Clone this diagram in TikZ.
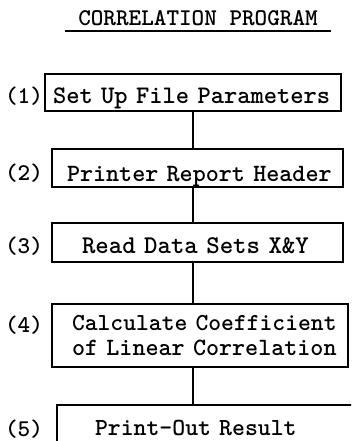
\documentclass[tikz,border=0pt]{standalone}
\usepackage{graphicx}
\newcommand\flowfont{\fontsize{24}{25}\selectfont\ttfamily\bfseries}
% typewriter text stretched to n characters of 12.6pt pitch
\newcommand\typed[2]{\resizebox{#1\dimexpr12.6pt\relax}{!}{#2}}
\tikzset{
  stepbox/.style={draw, line width=2.2pt, inner sep=0pt, outer sep=0pt,
                  align=left, anchor=north west, font=\flowfont},
  steplabel/.style={inner sep=0pt, anchor=base, font=\flowfont},
  link/.style={line width=2pt},
}
\begin{document}
\begin{tikzpicture}[x=1pt, y=-1pt]
  \useasboundingbox[fill=white] (0,0) rectangle (351,441);
  \clip (0,0) rectangle (351,441);

  % heading
  \node[steplabel] (title) at (198,26) {\typed{19}{CORRELATION PROGRAM}};
  \draw[line width=2pt] ([xshift=-13pt,yshift=-5.5pt]title.base west)
                     -- ([xshift=13pt,yshift=-5.5pt]title.base east);

  % program steps
  \node[stepbox, text width=296pt, text height=29pt, text depth=8pt] (b1) at (45,74)
    {\hspace*{8pt}\typed{22}{Set Up File Parameters}};
  \node[stepbox, text width=291pt, text height=32pt, text depth=6pt] (b2) at (52,149)
    {\hspace*{15pt}\typed{21}{Printer Report Header}};
  \node[stepbox, text width=291pt, text height=30pt, text depth=9pt] (b3) at (52,223)
    {\hspace*{30pt}\typed{18}{Read Data Sets X\&Y}};
  \node[stepbox, text width=296pt, minimum height=63pt] (b4) at (52,304)
    {\hspace*{20pt}\typed{21}{Calculate Coefficient}\\
     \hspace*{20pt}\typed{21}{of Linear Correlation}};
  \node[stepbox, text width=300pt, text height=30pt, text depth=20pt] (b5) at (57,405)
    {\hspace*{38pt}\typed{16}{Print-Out Result}};

  % step numbers
  \node[steplabel] (n1) at (24,103) {\typed{3}{(1)}};
  \node[steplabel] (n2) at (24,180) {\typed{3}{(2)}};
  \node[steplabel] (n3) at (24,253) {\typed{3}{(3)}};
  \node[steplabel] (n4) at (24,332) {\typed{3}{(4)}};
  \node[steplabel] (n5) at (24,436) {\typed{3}{(5)}};

  % flow line between the steps
  \coordinate (spine) at (192.5,0);
  \draw[link] (b1.south -| spine) -- (b2.north -| spine);
  \draw[link] (b2.south -| spine) -- (b3.north -| spine);
  \draw[link] (b3.south -| spine) -- (b4.north -| spine);
  \draw[link] (b4.south -| spine) -- (b5.north -| spine);
\end{tikzpicture}
\end{document}
